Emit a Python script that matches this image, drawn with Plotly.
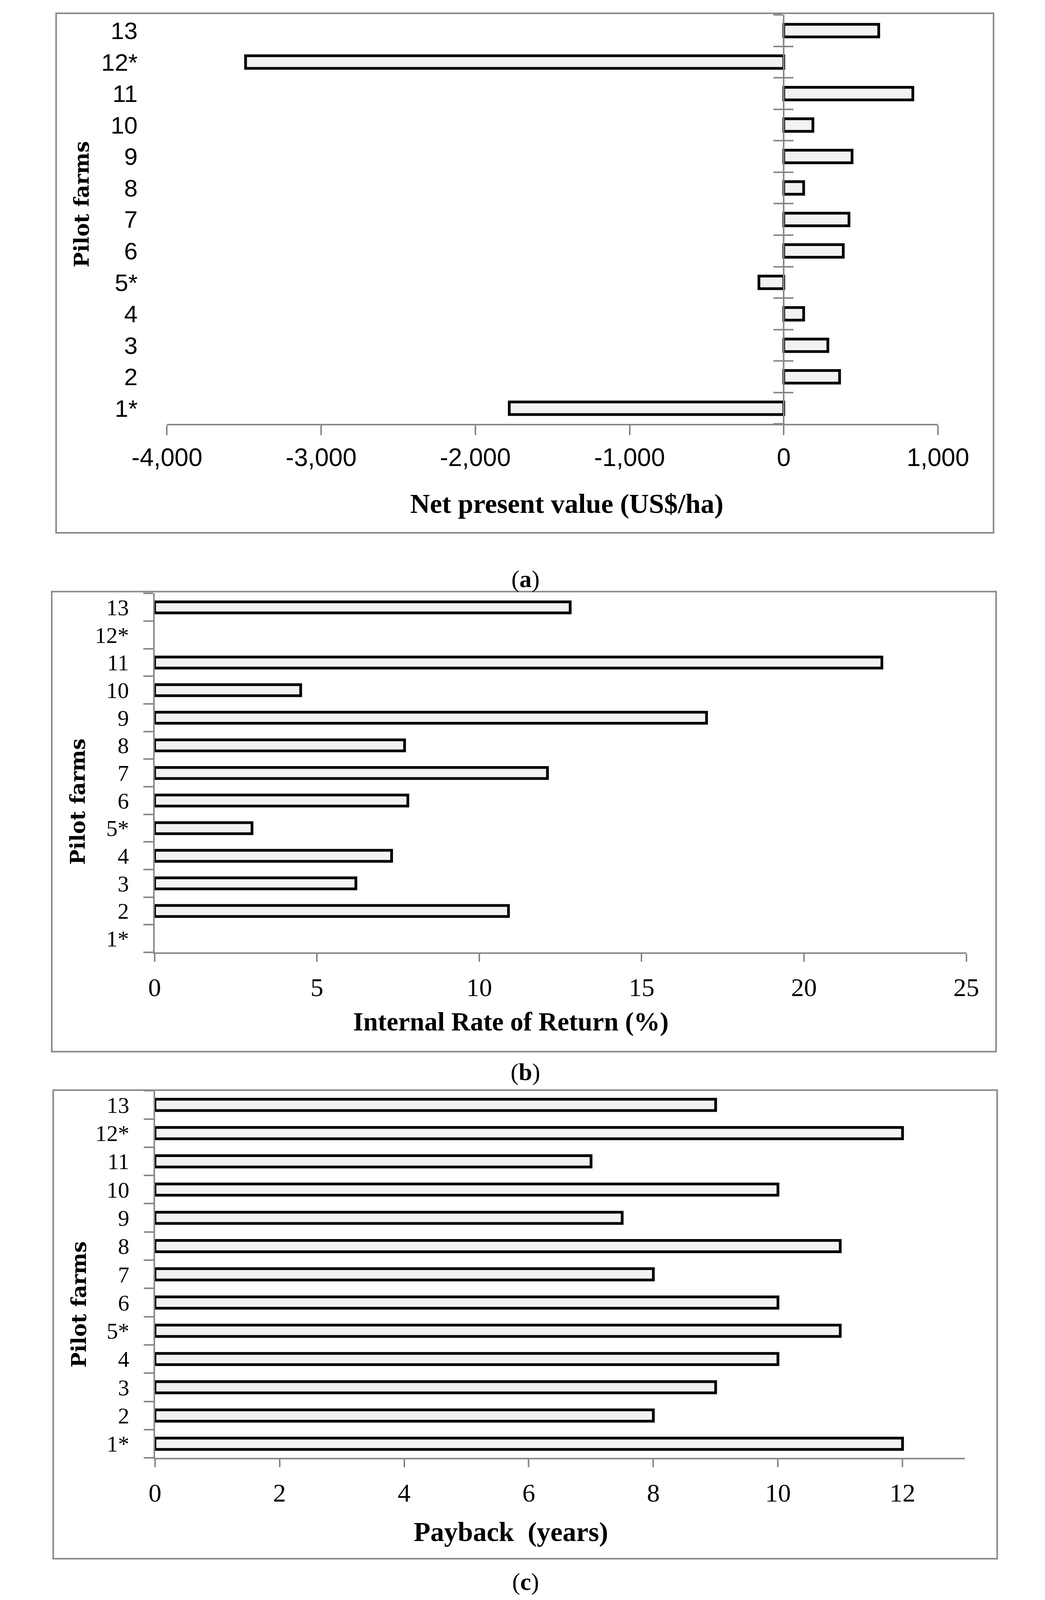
import plotly.graph_objects as go

# ---------------- data ----------------
farms = ["1*", "2", "3", "4", "5*", "6", "7", "8", "9", "10", "11", "12*", "13"]
npv = [-1780, 362, 286, 129, -161, 386, 423, 129, 443, 189, 837, -3490, 616]
irr = [None, 10.9, 6.2, 7.3, 3.0, 7.8, 12.1, 7.7, 17.0, 4.5, 22.4, None, 12.8]
payback = [12, 8, 9, 10, 11, 10, 8, 11, 7.5, 10, 7, 12, 9]

npv_tickvals = [-4000, -3000, -2000, -1000, 0, 1000]
npv_ticktext = ["-4,000", "-3,000", "-2,000", "-1,000", "0", "1,000"]
irr_tickvals = [0, 5, 10, 15, 20, 25]
payback_tickvals = [0, 2, 4, 6, 8, 10, 12]

npv_title = "Net present value (US$/ha)"
irr_title = "Internal Rate of Return (%)"
payback_title = "Payback\u00a0 (years)"
y_title = "Pilot farms"

# ---------------- styling ----------------
# reference canvas (used to turn measured pixel positions into paper fractions)
W, H = 2675, 5010
GRAY = "#898989"
FILL = "#f2f2f2"
SANS = "Liberation Sans, Arial, sans-serif"
SERIF = "Liberation Serif, Times New Roman, serif"
BAR_W = 0.4

ypos = list(range(len(farms)))
bounds = [i - 0.5 for i in range(len(farms) + 1)]
yrange = [-0.5, len(farms) - 0.5]


def px_x(v):
    return v / W


def px_y(v):
    return 1 - v / H


# panel domains (pixel measurements from the reference)
ax_dom = [px_x(353), px_x(2475)]
ay_dom = [px_y(1323), px_y(37)]
bx_dom = [px_x(319), px_x(2553)]
by_dom = [px_y(2984), px_y(1856)]
cx_dom = [px_x(320), px_x(2549)]
cy_dom = [px_y(4573), px_y(3419)]

npv_range = [-4000, 1000]
zero_pos = ax_dom[0] + (0 - npv_range[0]) / (npv_range[1] - npv_range[0]) * (ax_dom[1] - ax_dom[0])

bar_style = dict(color=FILL, line=dict(color="black", width=7))

fig = go.Figure()
fig.add_trace(go.Bar(x=npv, y=ypos, orientation="h", width=BAR_W, marker=bar_style,
                     xaxis="x", yaxis="y", showlegend=False))
fig.add_trace(go.Bar(x=irr, y=ypos, orientation="h", width=BAR_W, marker=bar_style,
                     xaxis="x2", yaxis="y2", showlegend=False))
fig.add_trace(go.Bar(x=payback, y=ypos, orientation="h", width=BAR_W, marker=bar_style,
                     xaxis="x3", yaxis="y3", showlegend=False))
# helper (empty) traces so the zero-position category axes of panel (a) are drawn
fig.add_trace(go.Scatter(x=[None], y=[None], xaxis="x", yaxis="y4", showlegend=False, hoverinfo="skip"))
fig.add_trace(go.Scatter(x=[None], y=[None], xaxis="x", yaxis="y5", showlegend=False, hoverinfo="skip"))

common_x = dict(showgrid=False, zeroline=False, showline=True, linecolor=GRAY, linewidth=4,
                ticks="outside", tickcolor=GRAY, tickwidth=4, fixedrange=True)
common_y = dict(showgrid=False, zeroline=False, range=yrange, tickmode="array",
                tickvals=ypos, ticktext=farms, ticks="", fixedrange=True)

fig.update_layout(
    autosize=True,  # fill the browser window so nothing gets cut off
    margin=dict(l=0, r=0, t=0, b=0),
    paper_bgcolor="white", plot_bgcolor="white",
    # ---- panel (a)
    xaxis=dict(domain=ax_dom, anchor="y", range=npv_range, tickmode="array",
               tickvals=npv_tickvals, ticktext=npv_ticktext, ticklen=25,
               tickfont=dict(family=SANS, size=64, color="black"), ticklabelstandoff=2,
               **common_x),
    yaxis=dict(domain=ay_dom, anchor="x", showline=False,
               tickfont=dict(family=SANS, size=62, color="black"), ticklabelstandoff=74,
               **common_y),
    yaxis4=dict(overlaying="y", anchor="free", position=zero_pos, range=yrange,
                tickmode="array", tickvals=bounds, showticklabels=False,
                ticks="outside", ticklen=24, tickwidth=4, tickcolor=GRAY,
                showline=True, linecolor=GRAY, linewidth=4,
                showgrid=False, zeroline=False, fixedrange=True),
    yaxis5=dict(overlaying="y", anchor="free", position=zero_pos, range=yrange,
                tickmode="array", tickvals=bounds, showticklabels=False,
                ticks="inside", ticklen=24, tickwidth=4, tickcolor=GRAY,
                showline=False, showgrid=False, zeroline=False, fixedrange=True),
    # ---- panel (b)
    xaxis2=dict(domain=bx_dom, anchor="y2", range=[0, 25], tickmode="array",
                tickvals=irr_tickvals, ticklen=20,
                tickfont=dict(family=SERIF, size=66, color="black"), ticklabelstandoff=9,
                **common_x),
    yaxis2=dict(domain=by_dom, anchor="x2", showline=True, linecolor=GRAY, linewidth=4,
                minor=dict(tickmode="array", tickvals=bounds, ticks="outside", ticklen=25,
                           tickwidth=4, tickcolor=GRAY),
                tickfont=dict(family=SERIF, size=58, color="black"), ticklabelstandoff=50,
                **common_y),
    # ---- panel (c)
    xaxis3=dict(domain=cx_dom, anchor="y3", range=[0, 13], tickmode="array",
                tickvals=payback_tickvals, ticklen=20,
                tickfont=dict(family=SERIF, size=66, color="black"), ticklabelstandoff=9,
                **common_x),
    yaxis3=dict(domain=cy_dom, anchor="x3", showline=True, linecolor=GRAY, linewidth=4,
                minor=dict(tickmode="array", tickvals=bounds, ticks="outside", ticklen=25,
                           tickwidth=4, tickcolor=GRAY),
                tickfont=dict(family=SERIF, size=58, color="black"), ticklabelstandoff=50,
                **common_y),
)

# frames around each panel
boxes = [(48, 32, 2628, 1665), (36, 1850, 2635, 3296), (40, 3417, 2638, 4890)]
for (x0, y0, x1, y1) in boxes:
    fig.add_shape(type="rect", xref="paper", yref="paper",
                  x0=px_x(x0), x1=px_x(x1), y0=px_y(y1), y1=px_y(y0),
                  line=dict(color=GRAY, width=4), fillcolor="rgba(0,0,0,0)", layer="below")

ann = [
    (npv_title, 1454, 1573, 70),
    (irr_title, 1300, 3202, 67),
    (payback_title, 1300, 4806, 70),
]
for text, x, y, size in ann:
    fig.add_annotation(text="<b>" + text + "</b>", x=px_x(x), y=px_y(y), xref="paper", yref="paper",
                       showarrow=False, xanchor="center", yanchor="middle",
                       font=dict(family=SERIF, size=size, color="black"))

pilot_font = dict(family="DejaVu Serif, serif", size=52, color="black")
for x, y in ((118, 632), (106, 2510), (110, 4091)):
    fig.add_annotation(text="<b>" + y_title + "</b>", x=px_x(x), y=px_y(y), xref="paper", yref="paper",
                       showarrow=False, textangle=-90, xanchor="center", yanchor="middle", font=pilot_font)

panel_font = dict(family=SERIF, size=62, color="black")
for lab, y in (("a", 1810), ("b", 3360), ("c", 4963)):
    fig.add_annotation(text="(<b>" + lab + "</b>)", x=px_x(1340), y=px_y(y), xref="paper", yref="paper",
                       showarrow=False, xanchor="center", yanchor="middle", font=panel_font)

fig.write_html("out.html")
